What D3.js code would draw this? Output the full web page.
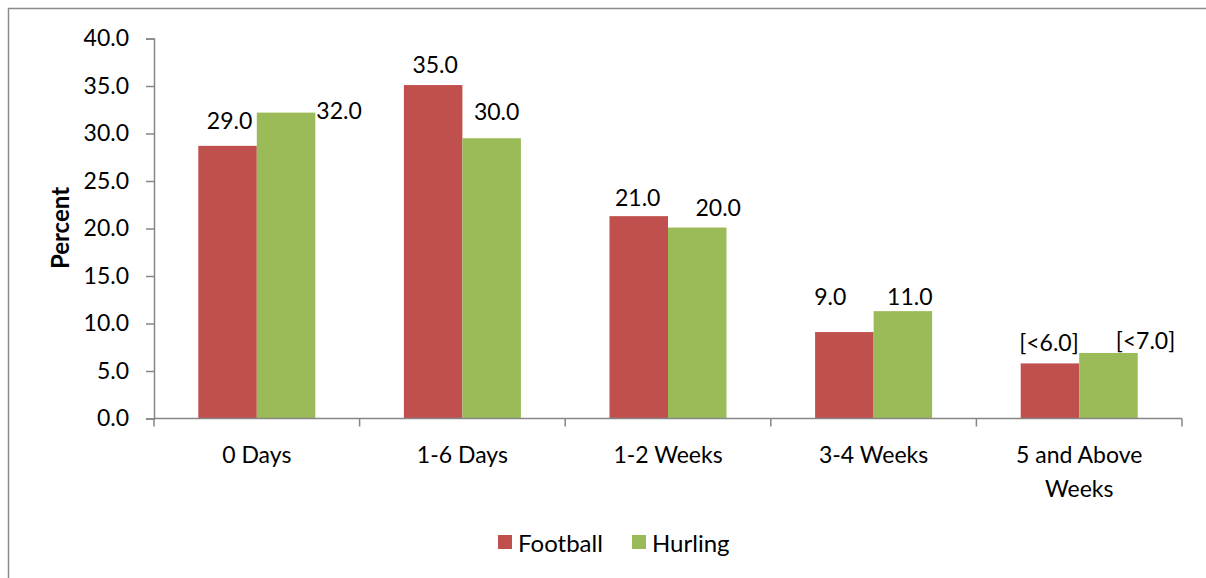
<!DOCTYPE html>
<html>
<head>
<meta charset="utf-8">
<script src="https://cdn.jsdelivr.net/npm/d3@7"></script>
<style>
  html, body { margin: 0; padding: 0; background: #fff; }
  svg { display: block; font-family: Lato, "Open Sans", sans-serif; }
</style>
</head>
<body>
<svg id="chart" width="1206" height="578"></svg>
<script>
// ---- data ----
const categories = ["0 Days", "1-6 Days", "1-2 Weeks", "3-4 Weeks", "5 and Above|Weeks"];
const seriesNames = ["Football", "Hurling"];
const football = [28.7, 35.1, 21.3, 9.1, 5.8];
const hurling = [32.2, 29.5, 20.1, 11.3, 6.9];
const footballLabels = ["29.0", "35.0", "21.0", "9.0", "[<6.0]"];
const hurlingLabels = ["32.0", "30.0", "20.0", "11.0", "[<7.0]"];
const yTicks = [0, 5, 10, 15, 20, 25, 30, 35, 40];

// ---- layout (label nudges, as placed in the original) ----
const footballLabelShift = [[2, -26], [2, -21], [-1, -19], [-14, -36], [-1, -21]];
const hurlingLabelShift = [[53, -3], [5, -27], [21, -21], [7, -15], [37, -13]];
const colors = { Football: "#C0504D", Hurling: "#9BBB59" };

const svg = d3.select("#chart");
const axisColor = "#868686";

// outer border
svg.append("rect").attr("x", 8.5).attr("y", 8.5).attr("width", 1210).attr("height", 600)
  .attr("fill", "none").attr("stroke", "#8c8c8c").attr("stroke-width", 1.5);

const x0 = d3.scaleBand().domain(categories).range([154, 1182]).padding(0);
const x1 = d3.scaleBand().domain(seriesNames).range([0, x0.bandwidth()]).paddingInner(0).paddingOuter(0.757);
const y = d3.scaleLinear().domain([0, 40]).range([418.5, 38.5]);

const rows = categories.map((c, i) => ({
  cat: c,
  vals: [
    { s: "Football", v: football[i], label: footballLabels[i], shift: footballLabelShift[i] },
    { s: "Hurling", v: hurling[i], label: hurlingLabels[i], shift: hurlingLabelShift[i] }
  ]
}));

// bars
const g = svg.append("g");
const groups = g.selectAll("g.cat").data(rows).join("g")
  .attr("transform", d => `translate(${x0(d.cat)},0)`);
groups.selectAll("rect").data(d => d.vals).join("rect")
  .attr("x", d => x1(d.s))
  .attr("y", d => y(d.v))
  .attr("width", x1.bandwidth())
  .attr("height", d => y(0) - y(d.v))
  .attr("fill", d => colors[d.s]);
groups.selectAll("text").data(d => d.vals).join("text")
  .attr("x", d => x1(d.s) + x1.bandwidth() / 2 + d.shift[0])
  .attr("y", d => y(d.v) + d.shift[1])
  .attr("text-anchor", "middle")
  .attr("dominant-baseline", "central")
  .attr("font-size", 23)
  .attr("fill", "#000")
  .text(d => d.label);

// y axis
const yAxis = d3.axisLeft(y).tickValues(yTicks).tickFormat(d3.format(".1f")).tickSize(8).tickPadding(17);
const ya = svg.append("g").attr("transform", "translate(154,0)").call(yAxis);
ya.select(".domain").attr("stroke", axisColor).attr("stroke-width", 1.5);
ya.selectAll(".tick line").attr("stroke", axisColor).attr("stroke-width", 1.5);
ya.selectAll(".tick text").attr("font-size", 23).attr("font-family", "Lato, sans-serif").attr("fill", "#000");

// x axis
const xa = svg.append("g").attr("transform", `translate(0,${y(0)})`);
xa.append("line").attr("x1", 154).attr("x2", 1182).attr("stroke", axisColor).attr("stroke-width", 1.5);
const boundaries = categories.map(c => x0(c)).concat([x0.range()[1]]);
xa.selectAll("line.tk").data(boundaries).join("line").attr("class", "tk")
  .attr("x1", d => d).attr("x2", d => d).attr("y1", 0).attr("y2", 8)
  .attr("stroke", axisColor).attr("stroke-width", 1.5);
const xl = xa.selectAll("text.xl").data(categories).join("text").attr("class", "xl")
  .attr("x", d => x0(d) + x0.bandwidth() / 2)
  .attr("y", 35)
  .attr("text-anchor", "middle")
  .attr("dominant-baseline", "central")
  .attr("font-size", 23)
  .attr("fill", "#000");
xl.each(function(d) {
  const parts = d.split("|");
  const t = d3.select(this);
  parts.forEach((p, i) => {
    t.append("tspan").attr("x", x0(d) + x0.bandwidth() / 2).attr("dy", i === 0 ? 0 : 34).text(p);
  });
});

// y title
svg.append("text")
  .attr("transform", "translate(59,228) rotate(-90)")
  .attr("text-anchor", "middle")
  .attr("dominant-baseline", "central")
  .attr("font-size", 24)
  .attr("font-weight", "bold")
  .attr("fill", "#000")
  .text("Percent");

// legend
const legend = svg.append("g");
const legendX = [498, 632];
seriesNames.forEach((s, i) => {
  legend.append("rect").attr("x", legendX[i]).attr("y", 535).attr("width", 14).attr("height", 14).attr("fill", colors[s]);
  legend.append("text").attr("x", legendX[i] + 20).attr("y", 542)
    .attr("dominant-baseline", "central").attr("font-size", 24).attr("fill", "#000").text(s);
});
</script>
</body>
</html>
